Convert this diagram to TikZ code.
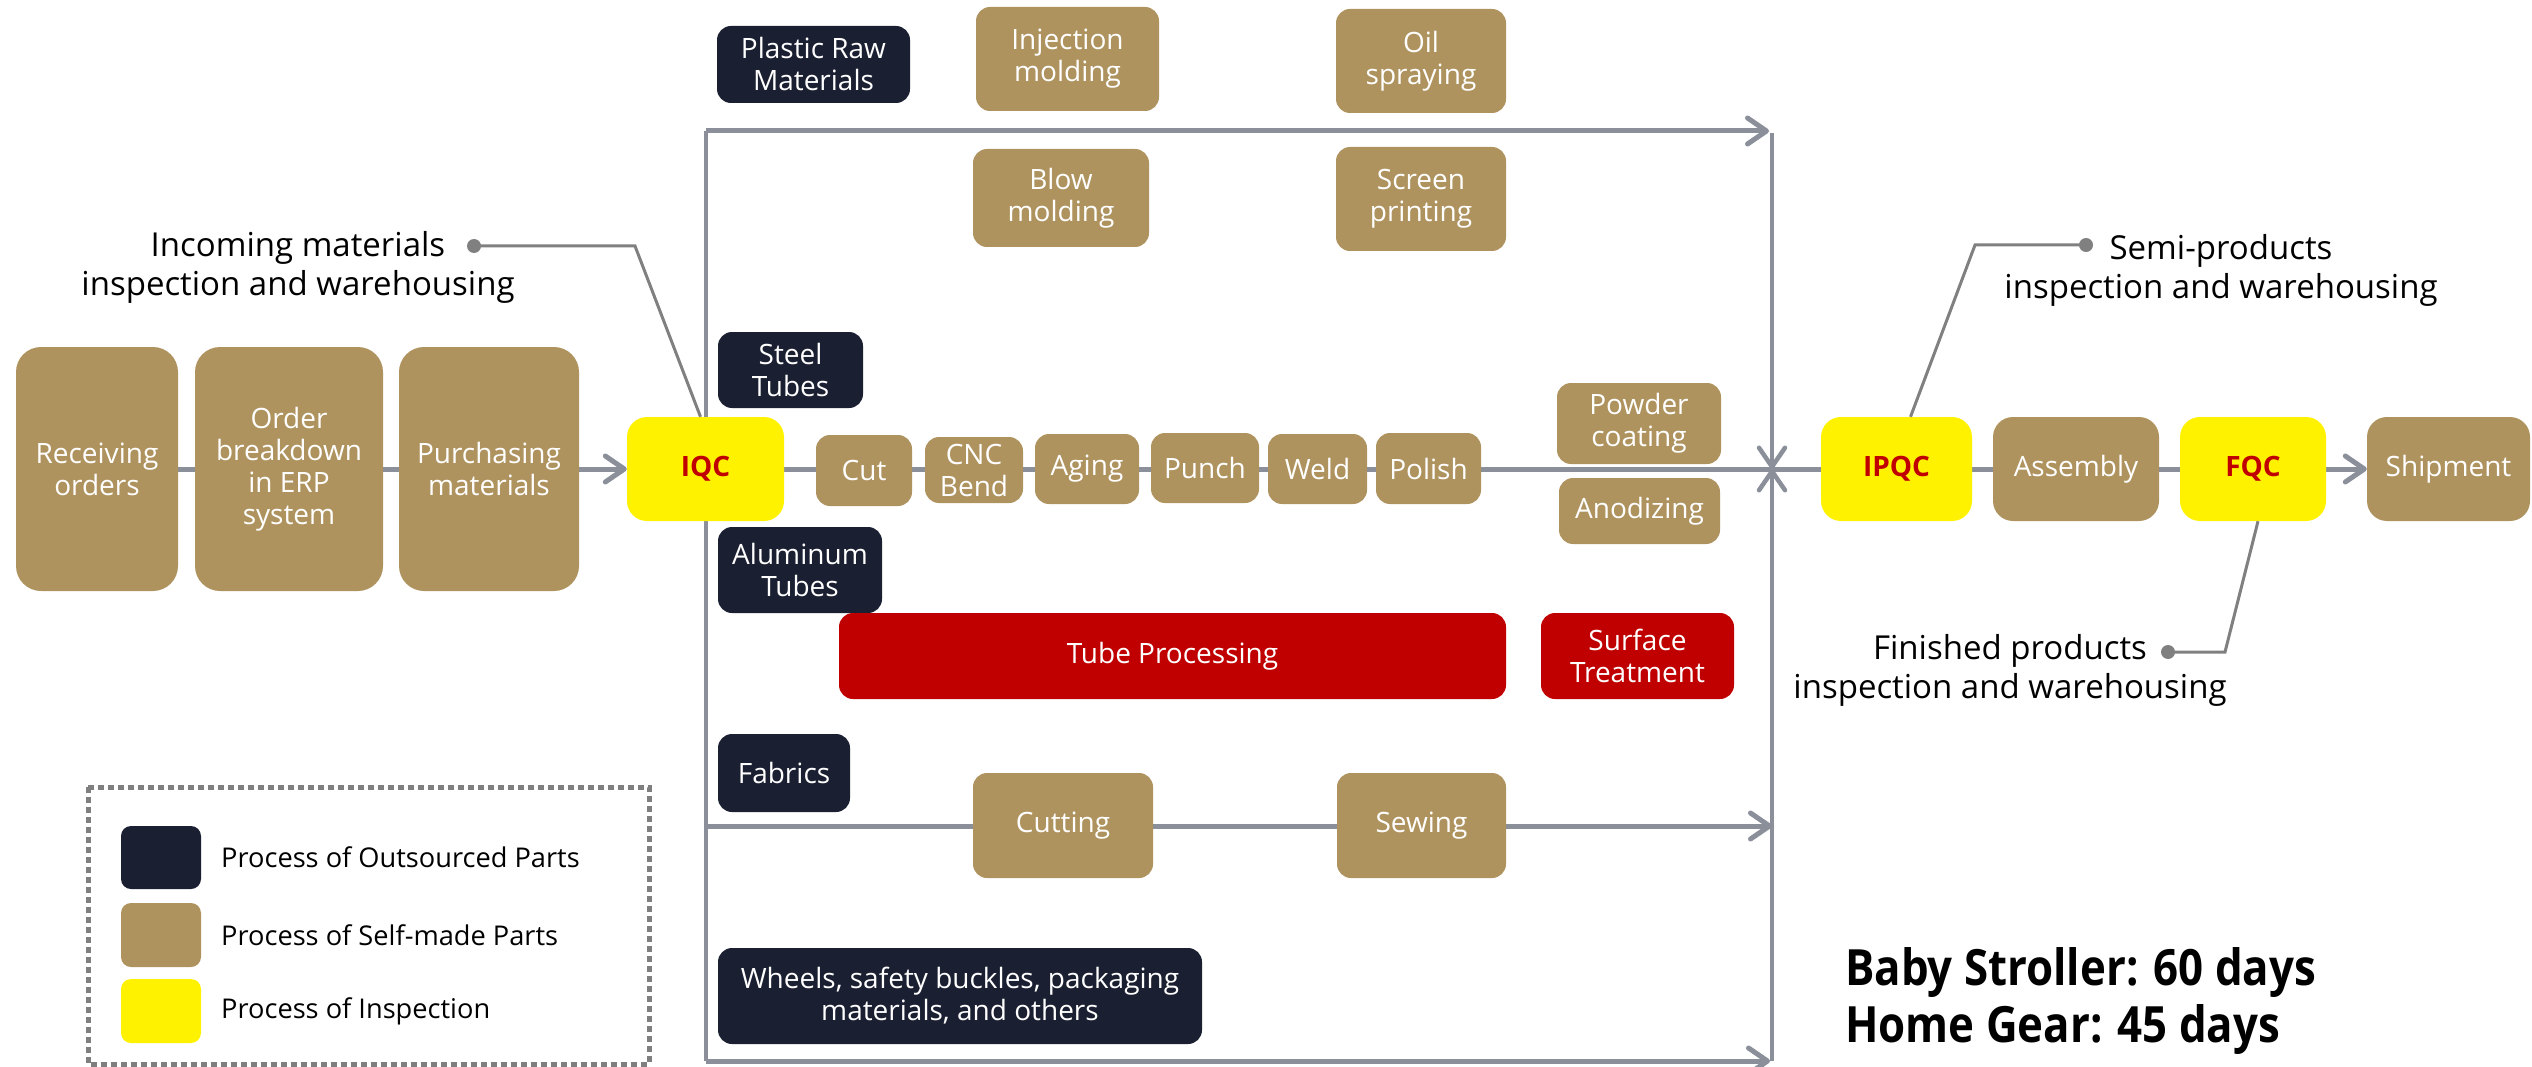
\documentclass[tikz,border=0pt]{standalone}
\usepackage{fontspec}
\setmainfont{Open Sans}
\newfontfamily\daysfont[FakeStretch=0.876]{Open Sans}
\usetikzlibrary{arrows.meta}
\definecolor{brn}{HTML}{AF935F}
\definecolor{navy}{HTML}{1A1F31}
\definecolor{rd}{HTML}{C00000}
\definecolor{ln}{HTML}{8A8F9A}
\definecolor{cn}{HTML}{808080}
\definecolor{lg}{HTML}{7F7F7F}
\pgfdeclarelayer{bg}
\pgfsetlayers{bg,main}
\begin{document}
\begin{tikzpicture}[x=1pt,y=-1pt,
 box/.style={rounded corners=14pt, text=white, align=center, inner sep=0pt, font=\fontsize{28}{32}\selectfont},
 bbox/.style={box, fill=brn},
 nbox/.style={box, fill=navy},
 rbox/.style={box, fill=rd},
 ybox/.style={box, fill=yellow, text=rd, rounded corners=20pt, font=\fontsize{28}{32}\selectfont\bfseries},
 sz/.style 2 args={minimum width=#1pt, minimum height=#2pt},
 flow/.style={draw=ln, line width=5pt},
 vflow/.style={draw=ln, line width=4.5pt},
 arr/.style={-{Straight Barb[length=19pt,width=26pt,round]}},
 call/.style={draw=cn, line width=3pt},
 lbl/.style={align=center, inner sep=0pt, font=\fontsize{33}{39}\selectfont},
 legtxt/.style={anchor=west, inner sep=0pt, font=\fontsize{27.2}{30}\selectfont},
 days/.style={anchor=base west, inner sep=0pt, font=\fontsize{50}{57}\selectfont\daysfont\bfseries},
]
\useasboundingbox (0,0) rectangle (2532,1067);

% left chain
\node[bbox, sz={162}{244}, rounded corners=25pt] (rec) at (97,469) {Receiving\\orders};
\node[bbox, sz={188}{244}, rounded corners=25pt] (ord) at (289,469) {Order\\breakdown\\in ERP\\system};
\node[bbox, sz={180}{244}, rounded corners=25pt] (pur) at (489,469) {Purchasing\\materials};
\node[ybox, sz={157}{104}] (iqc) at (705.5,469) {IQC};

% plastic row
\node[nbox, sz={193}{77}] (plast) at (813.5,64.5) {Plastic Raw\\Materials};
\node[bbox, sz={183}{104}] (inj) at (1067.5,59) {\raisebox{-4pt}{\parbox{183pt}{\centering Injection\\molding}}};
\node[bbox, sz={170}{104}] (oil) at (1421,61) {\raisebox{-2pt}{\parbox{170pt}{\centering Oil\\spraying}}};
\node[bbox, sz={176}{98}] (blow) at (1061,198) {Blow\\molding};
\node[bbox, sz={170}{104}] (scr) at (1421,199) {Screen\\printing};

% tube row
\node[nbox, sz={145}{76}] (steel) at (790.5,370) {Steel\\Tubes};
\node[bbox, sz={96}{71}] (cut) at (864,470.5) {Cut};
\node[bbox, sz={98}{66}] (cnc) at (974,470) {CNC\\Bend};
\node[bbox, sz={104}{70}] (aging) at (1087,469) {Aging};
\node[bbox, sz={108}{70}] (punch) at (1205,468) {Punch};
\node[bbox, sz={99}{70}] (weld) at (1317.5,469) {Weld};
\node[bbox, sz={105}{71}] (pol) at (1428.5,468.5) {Polish};
\node[bbox, sz={164}{81}] (pow) at (1639,423.5) {Powder\\coating};
\node[bbox, sz={161}{66}] (ano) at (1639.5,511) {Anodizing};
\node[nbox, sz={164}{86}] (alu) at (800,570) {Aluminum\\Tubes};
\node[rbox, sz={667}{86}] (tube) at (1172.5,656) {Tube Processing};
\node[rbox, sz={193}{86}] (surf) at (1637.5,656) {Surface\\Treatment};

% fabrics row
\node[nbox, sz={132}{78}] (fab) at (784,773) {Fabrics};
\node[bbox, sz={180}{105}] (cutting) at (1063,825.5) {Cutting};
\node[bbox, sz={169}{105}] (sew) at (1421.5,825.5) {Sewing};

% others
\node[nbox, sz={484}{96}] (wheel) at (960,996) {Wheels, safety buckles, packaging\\materials, and others};

% right chain
\node[ybox, sz={151}{104}] (ipqc) at (1896.5,469) {IPQC};
\node[bbox, sz={166}{104}, rounded corners=20pt] (asm) at (2076,469) {Assembly};
\node[ybox, sz={146}{104}] (fqc) at (2253,469) {FQC};
\node[bbox, sz={163}{104}, rounded corners=20pt] (ship) at (2448.5,469) {Shipment};

% frame coordinates
\coordinate (tl) at (706,131);
\coordinate (tr) at (1769,131);
\coordinate (bl) at (706,1061);
\coordinate (br) at (1770,1061);
\coordinate (fl) at (706,826);
\coordinate (fr) at (1772,826);
\coordinate (vt) at (1772,133);
\coordinate (vb) at (1772,1061);
\coordinate (vm) at (1772,469);

\begin{pgfonlayer}{bg}
\draw[flow, arr] (rec.center) -- (iqc.west);
\draw[flow] (iqc.east) -- (ipqc.west);
\draw[flow] (ipqc.east) -- (asm.west);
\draw[flow] (asm.east) -- (fqc.west);
\draw[flow, arr] (fqc.east) -- (ship.west);
\draw[vflow] (tl) -- (bl);
\draw[flow, arr] (tl) -- (tr);
\draw[flow, arr] (bl) -- (br);
\draw[flow, arr] (fl) -- (fr);
\draw[vflow, arr] (vt) -- (vm);
\draw[vflow, arr] (vb) -- (vm);
\end{pgfonlayer}

% callouts
\node[lbl] (lin) at (298,267) {Incoming materials\\inspection and warehousing};
\coordinate (da) at (474,246);
\draw[call] (da) -- (635,246) -- ([xshift=-5pt]iqc.north);
\fill[cn] (da) circle (7pt);

\node[lbl] (lsemi) at (2221,270) {Semi-products\\inspection and warehousing};
\coordinate (db) at (2086,245);
\draw[call] (db) -- (1975,245) -- ([xshift=14pt]ipqc.north);
\fill[cn] (db) circle (7pt);

\node[lbl] (lfin) at (2010,670) {Finished products\\inspection and warehousing};
\coordinate (dc) at (2168,652);
\draw[call] (dc) -- (2225,652) -- ([xshift=5pt]fqc.south);
\fill[cn] (dc) circle (7pt);

% legend
\draw[lg, line width=5pt, dash pattern=on 6pt off 4pt] (88,787) rectangle (649,1064);
\node[box, fill=navy, sz={80}{63}, rounded corners=10pt] (k1) at (161,857.5) {};
\node[box, fill=brn, sz={80}{64}, rounded corners=10pt] (k2) at (161,935) {};
\node[box, fill=yellow, sz={80}{64}, rounded corners=10pt] (k3) at (161,1011) {};
\node[legtxt] (t1) at (221,857.5) {Process of Outsourced Parts};
\node[legtxt] (t2) at (221,935) {Process of Self-made Parts};
\node[legtxt] (t3) at (221,1011) {Process of Inspection};

% lead times
\node[days] (d1) at (1845,985) {Baby Stroller: 60 days};
\node[days] (d2) at (1845,1042) {Home Gear: 45 days};
\end{tikzpicture}
\end{document}
